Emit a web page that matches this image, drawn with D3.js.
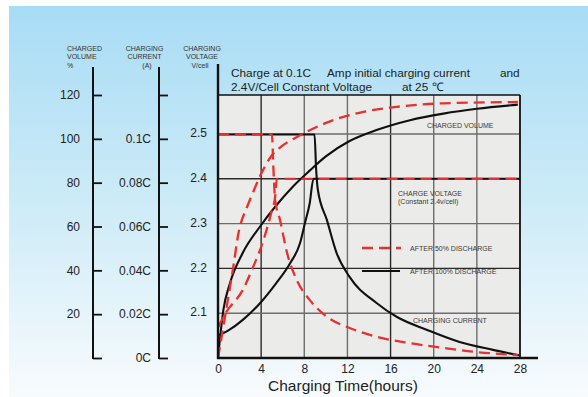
<!DOCTYPE html>
<html>
<head>
<meta charset="utf-8">
<script src="https://cdn.jsdelivr.net/npm/d3@7"></script>
<style>
  html, body { margin: 0; padding: 0; background: #fff; }
  svg { display: block; font-family: "Liberation Sans", Arial, Helvetica, sans-serif; }
</style>
</head>
<body>
<svg id="chart" width="588" height="397"></svg>
<script>
// ---- data -------------------------------------------------------------
const hourTicks = [0, 4, 8, 12, 16, 20, 24, 28];
const volumeTicks = [0, 20, 40, 60, 80, 100, 120];
const volumeTickLabels = ["", "20", "40", "60", "80", "100", "120"];
const currentTicks = [0, 0.02, 0.04, 0.06, 0.08, 0.1, 0.12];
const currentTickLabels = ["0C", "0.02C", "0.04C", "0.06C", "0.08C", "0.1C", ""];
const voltageTicks = [2.1, 2.2, 2.3, 2.4, 2.5];

// charged volume (%) against hours
const volume50 = [[0, 0], [0.65, 18.8], [1.4, 41], [1.9, 57], [2.7, 69], [3.2, 75], [3.9, 83], [5.0, 92.5],
  [6.0, 97], [7.2, 100.5], [10.4, 108], [13.2, 112], [16.6, 114.6], [20.9, 116.2], [27.8, 116.8]];
const volume100 = [[0, 0], [0.5, 22], [1.1, 34], [2.3, 48], [3.9, 60], [5.3, 69], [7.0, 78.5], [8.5, 85.5],
  [10.0, 92], [12.2, 99], [14.7, 104], [17.8, 108.5], [20.9, 111.5], [24, 113.7], [27.8, 115.6]];

// charging voltage (V/cell) against hours
const voltage50 = [[0, 2.068], [0.7, 2.1], [2.3, 2.152], [3.2, 2.2], [4.2, 2.262], [5.0, 2.33], [5.3, 2.36],
  [5.45, 2.4], [28, 2.4]];
const voltage100 = [[0, 2.05], [1, 2.062], [2.3, 2.085], [4.0, 2.125], [5.4, 2.167], [6.7, 2.212], [7.6, 2.256],
  [8.1, 2.305], [8.5, 2.345], [8.85, 2.4], [28, 2.4]];

// charging current (C) against hours
const current50 = [[0, 0.102], [5.0, 0.102], [5.15, 0.085], [5.3, 0.072], [5.75, 0.063], [6.4, 0.048],
  [7.3, 0.0356], [8.5, 0.0265], [10.1, 0.0188], [12.2, 0.0137], [14.7, 0.0097], [17.8, 0.0068],
  [20.9, 0.0046], [24, 0.0027], [27.8, 0.0014]];
const current100 = [[0, 0.102], [8.95, 0.102], [9.1, 0.086], [9.25, 0.077], [10.1, 0.0629], [11.0, 0.0479],
  [12.2, 0.037], [14.7, 0.0251], [16.6, 0.0187], [19.4, 0.0128], [22.4, 0.0073], [25.5, 0.0037], [27.9, 0.0012]];

// ---- layout -----------------------------------------------------------
const W = 588, H = 397;
const plot = { left: 218, right: 520, top: 95, bottom: 358 };
const RED = "#e8302e";

const svg = d3.select("#chart");
const defs = svg.append("defs");
const grad = defs.append("linearGradient").attr("id", "bg").attr("x1", 0).attr("y1", 0).attr("x2", 0).attr("y2", 1);
grad.append("stop").attr("offset", "0%").attr("stop-color", "#a8dcf5");
grad.append("stop").attr("offset", "50%").attr("stop-color", "#cdebf7");
grad.append("stop").attr("offset", "100%").attr("stop-color", "#f8fbfe");

svg.append("rect").attr("x", 9).attr("y", 6).attr("width", W - 9).attr("height", H - 6).attr("fill", "url(#bg)");

// scales
const x = d3.scaleLinear().domain([0, 28]).range([plot.left, plot.right]);
const yVol = d3.scaleLinear().domain([0, 120]).range([plot.bottom, plot.top]);
const yCur = d3.scaleLinear().domain([0, 0.12]).range([plot.bottom, plot.top]);
const yVolt = d3.scaleLinear().domain([2.0, 2.5]).range([plot.bottom, 134]);

// plot panel
svg.append("rect").attr("x", plot.left).attr("y", plot.top)
  .attr("width", plot.right - plot.left).attr("height", plot.bottom - plot.top).attr("fill", "#ebebea");

// grid
const grid = svg.append("g");
grid.selectAll("line.v").data(hourTicks.slice(1, -1)).join("line")
  .attr("x1", d => x(d)).attr("x2", d => x(d)).attr("y1", plot.top).attr("y2", plot.bottom)
  .attr("stroke", (d, i) => (i % 3 === 0 ? "#2a2a2a" : "#6d6d6d")).attr("stroke-width", 1.4);
grid.selectAll("line.h").data(voltageTicks).join("line")
  .attr("x1", plot.left).attr("x2", plot.right).attr("y1", d => yVolt(d)).attr("y2", d => yVolt(d))
  .attr("stroke", (d, i) => (i % 2 === 1 ? "#2a2a2a" : "#6d6d6d")).attr("stroke-width", 1.4);

// curves
const mk = ys => d3.line().x(d => x(d[0])).y(d => ys(d[1])).curve(d3.curveMonotoneX);
const curves = svg.append("g").attr("fill", "none");
const black = [[volume100, yVol], [voltage100, yVolt], [current100, yCur]];
const dashed = [[volume50, yVol], [voltage50, yVolt], [current50, yCur]];
black.forEach(([data, ys]) => curves.append("path").attr("d", mk(ys)(data))
  .attr("stroke", "#111").attr("stroke-width", 2.1));
dashed.forEach(([data, ys]) => curves.append("path").attr("d", mk(ys)(data))
  .attr("stroke", RED).attr("stroke-width", 2.3).attr("stroke-dasharray", "11,6"));

// panel border
const border = svg.append("g").attr("stroke", "#111").attr("fill", "none");
border.append("line").attr("x1", plot.left).attr("x2", plot.right).attr("y1", plot.top).attr("y2", plot.top).attr("stroke-width", 1.5);
border.append("line").attr("x1", plot.right).attr("x2", plot.right).attr("y1", plot.top).attr("y2", plot.bottom).attr("stroke-width", 1.8);
border.append("line").attr("x1", plot.left).attr("x2", plot.left).attr("y1", 64).attr("y2", plot.bottom + 1).attr("stroke-width", 2.4);

// bottom axis
const xAxis = svg.append("g").attr("transform", `translate(0,${plot.bottom})`)
  .call(d3.axisBottom(x).tickValues(hourTicks).tickSize(0).tickPadding(6));
xAxis.select(".domain").remove();
xAxis.append("line").attr("x1", plot.left - 1).attr("x2", 538).attr("stroke", "#111").attr("stroke-width", 2.4);
xAxis.selectAll("text").attr("font-size", 12).attr("fill", "#222").attr("font-family", "Liberation Sans, Arial, sans-serif");

svg.append("text").attr("x", 343).attr("y", 391).attr("text-anchor", "middle")
  .attr("font-size", 15.5).attr("fill", "#222").text("Charging Time(hours)");

// left axes
function sideAxis(xPos, scale, ticks, labels, labelRight) {
  const g = svg.append("g").attr("transform", `translate(${xPos},0)`);
  g.call(d3.axisRight(scale).tickValues(ticks).tickSize(9).tickFormat(""));
  g.select(".domain").remove();
  g.selectAll(".tick line").attr("stroke", "#111").attr("stroke-width", 1.8);
  g.append("line").attr("x1", 0).attr("x2", 0).attr("y1", 67).attr("y2", plot.bottom + 0.9)
    .attr("stroke", "#111").attr("stroke-width", 2);
  svg.append("g").selectAll("text").data(ticks).join("text")
    .attr("x", labelRight).attr("y", d => scale(d)).attr("dy", "0.35em")
    .attr("text-anchor", "end").attr("font-size", 12).attr("fill", "#222")
    .text((d, i) => labels[i]);
}
sideAxis(93, yVol, volumeTicks, volumeTickLabels, 80);
sideAxis(159, yCur, currentTicks, currentTickLabels, 151);

// voltage labels beside the panel
svg.append("g").selectAll("text").data(voltageTicks).join("text")
  .attr("x", 207).attr("y", d => yVolt(d) - 1).attr("dy", "0.35em").attr("text-anchor", "end")
  .attr("font-size", 12).attr("fill", "#222").text(d => d.toFixed(1));

// axis headings
function heading(lines, xPos, anchor) {
  const t = svg.append("text").attr("font-size", 7).attr("fill", "#333").attr("text-anchor", anchor);
  lines.forEach((s, i) => t.append("tspan").attr("x", xPos + (s.dx || 0)).attr("y", 51 + i * 8.4).text(s.t));
}
heading([{ t: "CHARGED" }, { t: "VOLUME" }, { t: "%" }], 67, "start");
heading([{ t: "CHARGING" }, { t: "CURRENT" }, { t: "(A)", dx: 2.5 }], 144.5, "middle");
heading([{ t: "CHARGING" }, { t: "VOLTAGE" }, { t: "V/cell", dx: -2 }], 202, "middle");

// title
const title = svg.append("g").attr("font-size", 11.8).attr("fill", "#222");
title.append("text").attr("x", 231).attr("y", 77).text("Charge at 0.1C");
title.append("text").attr("x", 327).attr("y", 77).text("Amp initial charging current");
title.append("text").attr("x", 500).attr("y", 77).text("and");
title.append("text").attr("x", 231).attr("y", 91).text("2.4V/Cell Constant Voltage");
title.append("text").attr("x", 402).attr("y", 91).text("at 25 \u2103");

// curve annotations
const note = svg.append("g").attr("font-size", 7).attr("fill", "#3a3a3a");
note.append("text").attr("x", 427).attr("y", 128).text("CHARGED VOLUME");
note.append("text").attr("x", 398).attr("y", 196).text("CHARGE VOLTAGE");
note.append("text").attr("x", 398).attr("y", 204).text("(Constant 2.4v/cell)");
note.append("text").attr("x", 413).attr("y", 323).text("CHARGING CURRENT");

// legend
const legend = svg.append("g");
legend.append("line").attr("x1", 362).attr("x2", 401).attr("y1", 248).attr("y2", 248)
  .attr("stroke", RED).attr("stroke-width", 2.3).attr("stroke-dasharray", "11,6");
legend.append("line").attr("x1", 362).attr("x2", 400).attr("y1", 271).attr("y2", 271)
  .attr("stroke", "#111").attr("stroke-width", 2.1);
legend.append("text").attr("x", 410).attr("y", 250.5).attr("font-size", 7).attr("fill", "#3a3a3a").text("AFTER 50% DISCHARGE");
legend.append("text").attr("x", 410).attr("y", 273.5).attr("font-size", 7).attr("fill", "#3a3a3a").text("AFTER 100% DISCHARGE");
</script>
</body>
</html>
